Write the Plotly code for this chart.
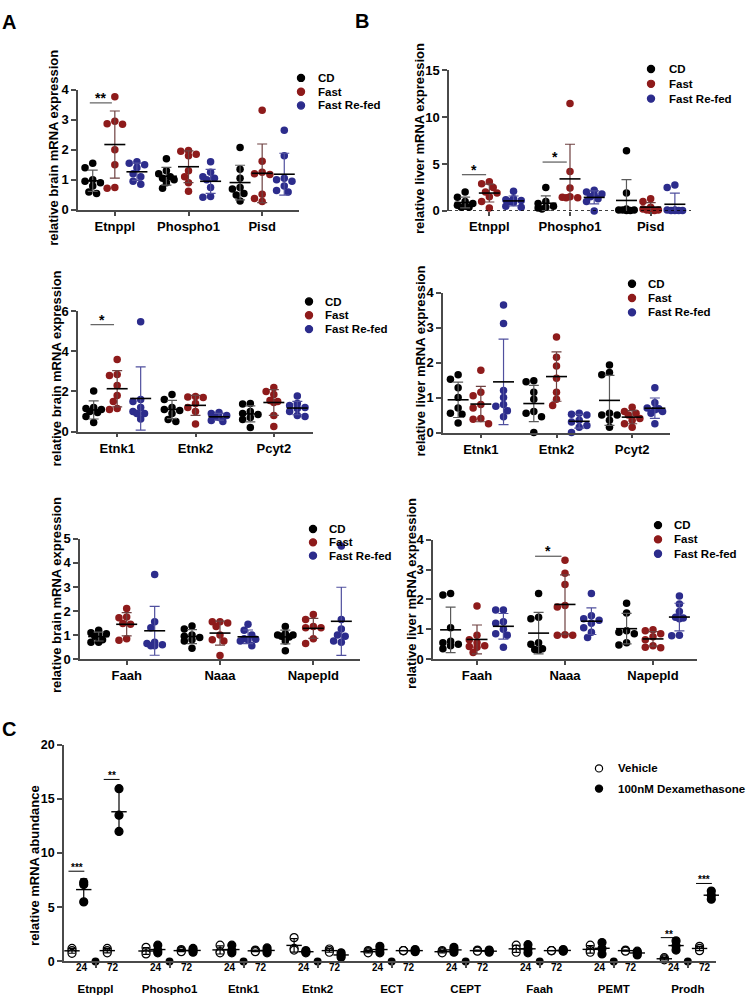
import numpy as np
import plotly.graph_objects as go

W, H = 748, 1000
FONT = "Liberation Sans, Arial, sans-serif"
AX = "#4a4a4a"

group_names = ["CD", "Fast", "Fast Re-fed"]
group_colors = ["#000000", "#8e1b1b", "#2c2c8c"]
bar_colors = ["#5a5a5a", "#6e4040", "#50509e"]

# ---- A / B: brain and liver, three diets ----
brain1_genes = ["Etnppl", "Phospho1", "Pisd"]
brain1_cd = [[1.55, 1.4, 1.0, 0.95, 0.9, 0.8, 0.6, 0.55],
             [1.7, 1.3, 1.2, 1.1, 1.05, 1.0, 0.9, 0.72],
             [2.08, 1.35, 1.05, 0.75, 0.7, 0.55, 0.5, 0.3]]
brain1_fast = [[3.77, 2.95, 2.87, 2.85, 2.0, 1.5, 0.75, 0.72],
               [1.98, 1.95, 1.85, 1.8, 1.3, 1.1, 0.9, 0.62],
               [3.32, 1.62, 1.25, 1.2, 1.18, 0.52, 0.38, 0.28]]
brain1_refed = [[1.6, 1.55, 1.5, 1.4, 1.2, 1.1, 0.95, 0.85],
                [1.6, 1.25, 1.1, 1.05, 1.0, 0.75, 0.45, 0.42],
                [2.65, 1.8, 1.05, 1.0, 0.95, 0.8, 0.65, 0.6]]

liver1_genes = ["Etnppl", "Phospho1", "Pisd"]
liver1_cd = [[2.0, 1.45, 1.0, 0.8, 0.6, 0.5, 0.4, 0.4],
             [2.5, 1.0, 0.8, 0.5, 0.4, 0.3, 0.2],
             [6.4, 1.9, 0.2, 0.1, 0.1, 0.05, 0.05, 0.1]]
liver1_fast = [[3.1, 2.9, 2.5, 2.0, 1.9, 1.5, 1.0, 0.3],
               [11.45, 4.2, 2.45, 1.5, 1.4, 1.4, 1.45],
               [1.3, 1.0, 0.4, 0.2, 0.1, 0.1, 0.05, 0.05]]
liver1_refed = [[2.1, 1.3, 1.2, 1.1, 1.0, 0.9, 0.5, 0.4],
                [2.2, 2.0, 1.8, 1.7, 1.5, 1.3, 1.0, 0.0],
                [2.75, 2.5, 0.1, 0.1, 0.05, 0.05, 0.05, 0.05]]

brain2_genes = ["Etnk1", "Etnk2", "Pcyt2"]
brain2_cd = [[2.02, 1.2, 1.15, 1.1, 1.0, 0.95, 0.75, 0.45],
             [1.85, 1.6, 1.2, 1.1, 1.05, 0.9, 0.6, 0.5],
             [1.4, 1.38, 1.0, 0.9, 0.85, 0.7, 0.6, 0.2]]
brain2_fast = [[3.6, 2.85, 2.8, 2.3, 1.8, 1.5, 1.15, 1.1],
               [1.75, 1.72, 1.7, 1.4, 1.2, 1.0, 0.38],
               [2.2, 2.0, 1.85, 1.55, 1.5, 1.45, 0.8, 0.25]]
brain2_refed = [[5.48, 1.6, 1.5, 1.2, 1.0, 0.9, 0.9, 0.62],
                [0.95, 0.9, 0.8, 0.75, 0.7, 0.55, 0.5],
                [1.78, 1.4, 1.3, 1.2, 1.15, 1.0, 0.8, 0.75]]

liver2_genes = ["Etnk1", "Etnk2", "Pcyt2"]
liver2_cd = [[1.65, 1.52, 1.28, 1.0, 0.7, 0.55, 0.52, 0.27],
             [1.48, 1.45, 1.15, 0.95, 0.6, 0.55, 0.45, 0.0],
             [1.93, 1.72, 1.65, 0.55, 0.5, 0.5, 0.35, 0.15]]
liver2_fast = [[1.78, 1.15, 1.05, 0.8, 0.7, 0.4, 0.38, 0.25],
               [2.73, 2.15, 1.9, 1.55, 1.15, 0.95, 0.77],
               [0.72, 0.6, 0.55, 0.5, 0.4, 0.35, 0.25, 0.15]]
liver2_refed = [[3.65, 3.12, 1.2, 1.0, 0.8, 0.75, 0.62, 0.45],
                [0.55, 0.52, 0.5, 0.35, 0.3, 0.2, 0.15, 0.0],
                [1.28, 0.85, 0.7, 0.68, 0.65, 0.6, 0.55, 0.25]]

brain3_genes = ["Faah", "Naaa", "Napepld"]
brain3_cd = [[1.2, 1.1, 1.05, 1.0, 0.95, 0.8, 0.7, 0.7],
             [1.38, 1.25, 1.0, 0.95, 0.9, 0.8, 0.75, 0.45],
             [1.35, 1.05, 1.0, 1.0, 0.95, 0.92, 0.75, 0.35]]
brain3_fast = [[2.1, 1.75, 1.72, 1.48, 1.45, 0.85, 0.78],
               [1.55, 1.55, 1.5, 1.35, 1.0, 0.8, 0.75, 0.15],
               [1.85, 1.65, 1.35, 1.3, 1.3, 0.85, 0.65]]
brain3_refed = [[3.52, 1.55, 1.3, 0.7, 0.65, 0.6, 0.55, 0.55],
                [1.45, 1.2, 1.0, 0.85, 0.82, 0.8, 0.75, 0.55],
                [4.7, 1.65, 1.25, 1.0, 0.95, 0.75, 0.7]]

liver3_genes = ["Faah", "Naaa", "Napepld"]
liver3_cd = [[2.2, 2.15, 1.05, 0.6, 0.55, 0.5, 0.45, 0.35],
             [2.2, 1.4, 1.35, 0.55, 0.5, 0.35, 0.32, 0.3],
             [1.87, 1.55, 0.95, 0.9, 0.85, 0.55, 0.47]]
liver3_fast = [[1.78, 0.8, 0.65, 0.55, 0.45, 0.42, 0.4, 0.22],
               [3.32, 2.88, 2.5, 1.8, 1.75, 0.82, 0.8, 0.8],
               [0.98, 0.95, 0.85, 0.75, 0.65, 0.45, 0.4, 0.38]]
liver3_refed = [[1.65, 1.65, 1.25, 1.2, 1.0, 0.85, 0.8, 0.4],
                [2.2, 1.45, 1.35, 1.3, 1.2, 1.05, 0.9, 0.72],
                [2.12, 1.85, 1.6, 1.4, 1.38, 1.35, 0.8, 0.78]]

# significance marks: (gene index, height, label)
brain1_sig = [(0, 3.56, "**")]
liver1_sig = [(0, 3.86, "*"), (1, 5.2, "*")]
brain2_sig = [(0, 5.34, "*")]
liver2_sig = []
brain3_sig = []
liver3_sig = [(1, 3.45, "*")]

# ---- C: dexamethasone time course ----
c_genes = ["Etnppl", "Phospho1", "Etnk1", "Etnk2", "ECT", "CEPT", "Faah", "PEMT", "Prodh"]
c_hours = ["24", "72"]
veh24 = [[1.2, 1.0, 0.75], [1.3, 0.9, 0.7], [1.5, 0.9, 0.8], [2.2, 1.2, 1.05], [1.0, 0.9, 0.8],
         [1.0, 0.9, 0.8], [1.5, 1.15, 0.85], [1.5, 1.0, 0.85], [0.35, 0.25, 0.15]]
dex24 = [[7.3, 7.1, 5.5], [1.5, 1.0, 0.8], [1.5, 1.0, 0.8], [1.0, 0.9, 0.8], [1.4, 1.1, 0.8],
         [1.3, 1.05, 0.85], [1.55, 1.15, 0.8], [1.75, 1.2, 0.7], [1.9, 1.45, 1.05]]
veh72 = [[1.2, 1.0, 0.8], [1.1, 1.0, 0.9], [1.05, 1.0, 0.9], [1.15, 1.0, 0.85], [1.0, 1.0, 1.0],
         [1.05, 1.0, 0.95], [1.0, 1.0, 1.0], [1.05, 1.0, 0.95], [1.4, 1.2, 1.0]]
dex72 = [[15.95, 13.5, 12.0], [1.2, 1.0, 0.85], [1.25, 1.0, 0.8], [0.8, 0.6, 0.4], [1.1, 1.0, 0.9],
         [1.05, 0.95, 0.85], [1.1, 1.0, 0.95], [0.95, 0.8, 0.6], [6.5, 6.1, 5.75]]
spacer = [0, 0, 0, 0, 0, 0, 0, 0, 0]
# (gene index, hour index, height, label)
c_sig = [(0, 0, 8.33, "***"), (0, 1, 16.8, "**"), (8, 0, 2.2, "**"), (8, 1, 7.2, "***")]

fig = go.Figure()
annotations, shapes = [], []
layout = dict(width=W, height=H, margin=dict(l=0, r=0, t=0, b=0),
              paper_bgcolor="white", plot_bgcolor="white", showlegend=False,
              font=dict(family=FONT, color="black"))


def px_x(p):
    return p / W


def px_y(p):
    return 1 - p / H


def swarm(vals, sx, sy, d=7.0):
    # spread overlapping dots sideways, Prism style, but keep them in a narrow column
    vals = np.asarray(vals, float)
    offs = np.zeros(len(vals))
    placed = []
    for k in np.argsort(-vals, kind="stable"):
        yk = vals[k] * sy
        best, best_gap = 0.0, -1.0
        for m in [0, -1, 1, -2, 2]:
            xk = m * 0.55 * d
            gap = min([np.hypot(xk - a, yk - b) for a, b in placed] or [1e9])
            if gap >= 0.95 * d:
                best = xk
                break
            if gap > best_gap + 0.5:
                best, best_gap = xk, gap
        placed.append((best, yk))
        offs[k] = best / sx
    return offs


def legend(items, mx, tx, y0, step, size=11.5):
    for j, (name, color, fill) in enumerate(items):
        y = px_y(y0 + j * step)
        shapes.append(dict(type="circle", xref="paper", yref="paper", xsizemode="pixel", ysizemode="pixel",
                           xanchor=px_x(mx), yanchor=y, x0=-3.6, x1=3.6, y0=-3.6, y1=3.6,
                           fillcolor=fill, line=dict(color=color, width=1.2)))
        annotations.append(dict(x=px_x(tx), y=y, xref="paper", yref="paper", text=name, showarrow=False,
                                xanchor="left", yanchor="middle", font=dict(size=size, weight="bold")))


def ytitle(text, cx, cy):
    annotations.append(dict(x=px_x(cx), y=px_y(cy), xref="paper", yref="paper", text=text, showarrow=False,
                            textangle=-90, xanchor="center", yanchor="middle",
                            font=dict(size=13, weight="bold")))


def diet_panel(n, genes, series, box, ymax, dtick, title, title_pos, leg, sig, dotted=False):
    x0, x1, yt, yb = box
    sx = (x1 - x0) / 3.0
    sy = (yb - yt) / ymax
    xa, ya = "x%d" % n, "y%d" % n
    offsets = [-0.3, 0.0, 0.3]
    for g, vals in enumerate(series):
        xs, ys, mx, means, sds = [], [], [], [], []
        for i, v in enumerate(vals):
            c = i + offsets[g]
            xs += list(c + swarm(v, sx, sy))
            ys += list(v)
            mx.append(c)
            means.append(np.mean(v))
            sds.append(np.std(v, ddof=1))
        fig.add_trace(go.Scatter(x=xs, y=ys, mode="markers", xaxis=xa, yaxis=ya, cliponaxis=False,
                                 marker=dict(size=7.5, color=group_colors[g], line=dict(width=0)),
                                 name=group_names[g], hoverinfo="y"))
        fig.add_trace(go.Scatter(x=mx, y=means, mode="markers", xaxis=xa, yaxis=ya, cliponaxis=False,
                                 marker=dict(symbol="line-ew", size=15, line=dict(width=1.6, color="black")),
                                 error_y=dict(type="data", array=sds, color=bar_colors[g], thickness=1.2, width=5),
                                 showlegend=False, hoverinfo="skip"))
    layout["xaxis%d" % n] = dict(domain=[px_x(x0), px_x(x1)], range=[-0.5, 2.5], anchor=ya,
                                 tickmode="array", tickvals=list(range(len(genes))), ticktext=genes,
                                 showline=not dotted, linecolor=AX, linewidth=1.5, ticks="outside",
                                 ticklen=4, tickwidth=1.5, tickcolor=AX, showgrid=False, zeroline=False,
                                 tickfont=dict(size=13, weight="bold"))
    layout["yaxis%d" % n] = dict(domain=[px_y(yb), px_y(yt)], range=[0, ymax], anchor=xa, dtick=dtick,
                                 showline=True, linecolor=AX, linewidth=1.5, ticks="outside", ticklen=5,
                                 tickwidth=1.5, tickcolor=AX, showgrid=False, zeroline=False,
                                 tickfont=dict(size=13, weight="bold"))
    if dotted:
        shapes.append(dict(type="line", xref="%s domain" % xa, yref=ya, x0=0, x1=1, y0=0, y1=0,
                           line=dict(color="black", width=1.3, dash="dot")))
    for gi, h, lab in sig:
        shapes.append(dict(type="line", xref=xa, yref=ya, x0=gi - 0.34, x1=gi - 0.04, y0=h, y1=h,
                           line=dict(color="#666666", width=1.3)))
        annotations.append(dict(x=gi - 0.19, y=h, xref=xa, yref=ya, text=lab, showarrow=False,
                                yanchor="bottom", yshift=-5, font=dict(size=14, weight="bold")))
    ytitle(title, *title_pos)
    legend([(group_names[g], group_colors[g], group_colors[g]) for g in range(3)], *leg)


diet_panel(1, brain1_genes, [brain1_cd, brain1_fast, brain1_refed], (78, 299, 84, 206), 4, 1,
           "relative brain mRNA expression", (54, 143), (301, 316, 72, 14), brain1_sig)
diet_panel(2, liver1_genes, [liver1_cd, liver1_fast, liver1_refed], (449, 691, 64, 207), 15, 5,
           "relative liver mRNA expression", (420, 134), (651, 667, 63, 15), liver1_sig, dotted=True)
diet_panel(3, brain2_genes, [brain2_cd, brain2_fast, brain2_refed], (78, 313, 309, 431), 6, 2,
           "relative brain mRNA expression", (56, 367), (309, 323, 299, 14), brain2_sig)
diet_panel(4, liver2_genes, [liver2_cd, liver2_fast, liver2_refed], (443, 670, 290, 432), 4, 1,
           "relative liver mRNA expression", (421, 360), (632, 646, 281, 14.5), liver2_sig)
diet_panel(5, brain3_genes, [brain3_cd, brain3_fast, brain3_refed], (80, 360, 540, 662), 5, 1,
           "relative brain mRNA expression", (56, 597), (313, 327, 530, 13.5), brain3_sig)
diet_panel(6, liver3_genes, [liver3_cd, liver3_fast, liver3_refed], (433, 697, 541, 662), 4, 1,
           "relative liver mRNA expression", (411, 596), (658, 672, 526, 14.5), liver3_sig)

# ---- panel C ----
step = 6.3  # slots per gene: veh24, dex24, spacer, veh72, dex72
base = np.arange(len(c_genes)) * step
slot = {"veh24": 0, "dex24": 1, "spacer": 2, "veh72": 3, "dex72": 4}
cx0, cx1, cyt, cyb = 64, 716, 749, 969
c_series = [("veh24", veh24, "white"), ("dex24", dex24, "black"),
            ("veh72", veh72, "white"), ("dex72", dex72, "black")]
for key, vals, fill in c_series:
    xs, ys = [], []
    for i, v in enumerate(vals):
        xs += [base[i] + slot[key]] * len(v)
        ys += list(v)
    fig.add_trace(go.Scatter(x=xs, y=ys, mode="markers", xaxis="x7", yaxis="y7", cliponaxis=False,
                             marker=dict(size=8, color=fill, line=dict(width=1.2, color="black")),
                             hoverinfo="y"))
fig.add_trace(go.Scatter(x=base + slot["spacer"], y=spacer, mode="markers", xaxis="x7", yaxis="y7",
                         cliponaxis=False, marker=dict(size=8, color="black"), hoverinfo="y"))
for key, vals, fill in c_series:
    fig.add_trace(go.Scatter(x=base + slot[key], y=[np.mean(v) for v in vals], mode="markers",
                             xaxis="x7", yaxis="y7", cliponaxis=False,
                             marker=dict(symbol="line-ew", size=11, line=dict(width=1.4, color="black")),
                             error_y=dict(type="data", array=[np.std(v, ddof=1) for v in vals],
                                          color="black", thickness=1.2, width=3.5),
                             hoverinfo="skip"))
layout["xaxis7"] = dict(domain=[px_x(cx0), px_x(cx1)], range=[-0.68, 54.8], anchor="y7",
                        tickmode="array", tickvals=list(base + slot["spacer"]), ticktext=c_genes,
                        showline=True, linecolor=AX, linewidth=1.5, ticks="outside", ticklen=5,
                        tickwidth=1.5, tickcolor=AX, showgrid=False, zeroline=False,
                        ticklabelstandoff=11, tickfont=dict(size=11.5, weight="bold"))
layout["yaxis7"] = dict(domain=[px_y(cyb), px_y(cyt)], range=[0, 20], anchor="x7", dtick=5,
                        showline=True, linecolor=AX, linewidth=1.5, ticks="outside", ticklen=5,
                        tickwidth=1.5, tickcolor=AX, showgrid=False, zeroline=False,
                        tickfont=dict(size=12.5, weight="bold"))
for i in range(len(c_genes)):
    for h, pos in zip(c_hours, [slot["dex24"] - 0.15, (slot["veh72"] + slot["dex72"]) / 2]):
        annotations.append(dict(x=base[i] + pos, y=px_y(975), xref="x7", yref="paper", text=h,
                                showarrow=False, yanchor="middle", font=dict(size=10, weight="bold")))
for gi, hi, h, lab in c_sig:
    v, d = (slot["veh24"], slot["dex24"]) if hi == 0 else (slot["veh72"], slot["dex72"])
    shapes.append(dict(type="line", xref="x7", yref="y7", x0=base[gi] + v - 0.3, x1=base[gi] + d + 0.05,
                       y0=h, y1=h, line=dict(color="black", width=1)))
    annotations.append(dict(x=base[gi] + (v + d) / 2 - 0.1, y=h, xref="x7", yref="y7", text=lab,
                            showarrow=False, yanchor="bottom", yshift=-4, font=dict(size=10, weight="bold")))
ytitle("relative mRNA abundance", 35, 872)
legend([("Vehicle", "black", "white"), ("100nM Dexamethasone", "black", "black")], 599, 616, 773, 20.5, 11.5)

for letter, lx, ly in [("A", 9, 15), ("B", 362, 14), ("C", 9, 733)]:
    annotations.append(dict(x=px_x(lx), y=px_y(ly), xref="paper", yref="paper", text=letter,
                            showarrow=False, xanchor="center", yanchor="middle",
                            font=dict(size=20, weight="bold")))

layout["annotations"] = annotations
layout["shapes"] = shapes
fig.update_layout(**layout)
# the page's default 8px body margin would push the figure off the 748x1000 window
fig.write_html("out.html", config={"displayModeBar": False},
               post_script="document.body.style.margin='0';document.body.style.overflow='hidden';")
